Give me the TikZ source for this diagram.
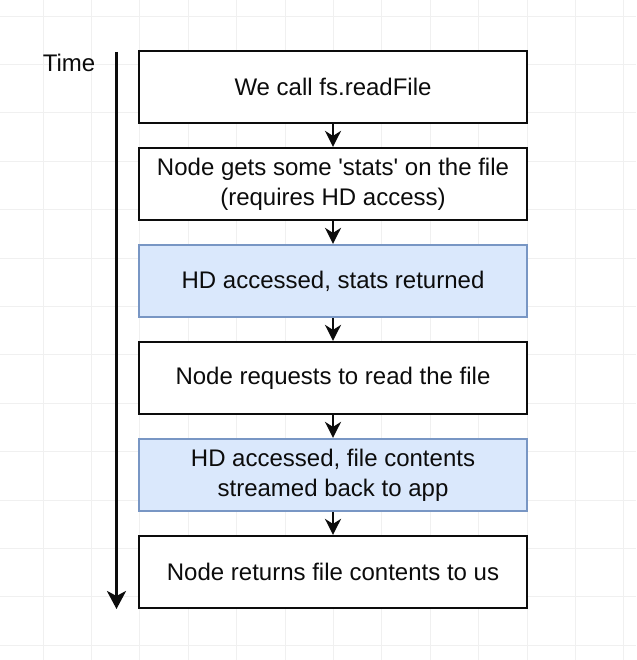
\documentclass[tikz,border=0pt]{standalone}
\usepackage{fontspec}
\setmainfont{Liberation Sans}[Ligatures=TeXOff]
\usetikzlibrary{arrows.meta}
\definecolor{gridc}{RGB}{240,240,240}
\definecolor{hdfill}{RGB}{218,232,252}
\definecolor{hdline}{RGB}{120,150,196}
\definecolor{ink}{RGB}{12,12,12}
\begin{document}
\begin{tikzpicture}[x=1pt,y=-1pt,
  stepbox/.style={draw=ink, line width=2.2pt, fill=white, minimum width=388pt, minimum height=72pt,
    inner sep=0pt, align=center, font=\fontsize{24pt}{30pt}\selectfont, text=ink},
  hdbox/.style={stepbox, draw=hdline, fill=hdfill},
  flow/.style={draw=ink, line width=2.2pt, -{Stealth[length=16pt,width=16pt,inset=5pt]}},
  timeline/.style={draw=ink, line width=3pt, -{Stealth[length=18pt,width=19pt,inset=5pt]}}]
\useasboundingbox (0,0) rectangle (636,660);
\fill[white] (0,0) rectangle (636,660);
\foreach \k in {0,...,12} {
  \draw[gridc, line width=0.8pt] (43+48.4*\k,0) -- (43+48.4*\k,660);
}
\foreach \k in {0,...,13} {
  \draw[gridc, line width=0.8pt] (0,16+48.4*\k) -- (636,16+48.4*\k);
}
\node[font=\fontsize{24pt}{30pt}\selectfont, text=ink, anchor=base] (timelbl) at (69,72) {Time};
\coordinate (tstart) at (116.5,52);
\coordinate (tend) at (116.5,609);
\draw[timeline] (tstart) -- (tend);
\node[stepbox] (b1) at (333,87) {We call fs.readFile};
\node[stepbox] (b2) at (333,184) {Node gets some 'stats' on the file\\(requires HD access)};
\node[hdbox] (b3) at (333,281) {HD accessed, stats returned};
\node[stepbox] (b4) at (333,378) {Node requests to read the file};
\node[hdbox] (b5) at (333,475) {HD accessed, file contents\\streamed back to app};
\node[stepbox] (b6) at (333,572) {Node returns file contents to us};
\draw[flow] (b1.south) -- (b2.north);
\draw[flow] (b2.south) -- (b3.north);
\draw[flow] (b3.south) -- (b4.north);
\draw[flow] (b4.south) -- (b5.north);
\draw[flow] (b5.south) -- (b6.north);
\end{tikzpicture}
\end{document}
